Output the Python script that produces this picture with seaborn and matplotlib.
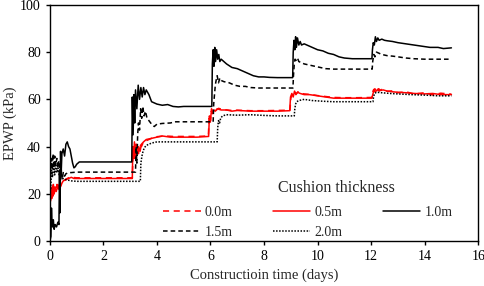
import matplotlib
matplotlib.use('Agg')
import matplotlib.pyplot as plt
import seaborn as sns
import pandas as pd

# cushion thickness labels
thickness = ["0.0m", "0.5m", "1.0m", "1.5m", "2.0m"]

# 0.0m (red dashed) - almost on top of 0.5m
t_00 = [0.03, 0.06, 0.09, 0.12, 0.15, 0.19, 0.23, 0.27, 0.31, 0.35, 0.4, 0.45, 0.5, 0.6, 0.7, 0.8, 1.0, 1.5, 2.0, 2.5, 3.08,
        3.11, 3.15, 3.19, 3.23, 3.27, 3.31, 3.36, 3.42, 3.5, 3.6, 3.8, 4.0, 4.3, 4.6, 5.0, 5.5, 5.92,
        5.95, 5.99, 6.03, 6.08, 6.13, 6.2, 6.3, 6.5, 6.8, 7.0, 7.5, 8.0, 8.5, 8.97,
        9.0, 9.05, 9.1, 9.15, 9.2, 9.27, 9.35, 9.5, 9.7, 10.0, 10.3, 10.6, 11.0, 11.5, 12.02,
        12.05, 12.1, 12.15, 12.2, 12.3, 12.4, 12.6, 12.8, 13.0, 13.3, 13.6, 14.0, 14.3, 14.6, 15.0]
epwp_00 = [18, 22, 19, 24, 20, 23, 21, 24, 22, 24, 23.5, 25, 25.5, 26.2, 26.8, 27, 26.8, 26.8, 26.8, 26.8, 26.8,
           39, 35, 41, 36, 40, 37, 41, 40, 42, 42.5, 43.5, 44.2, 44.5, 44.3, 44.3, 44.3, 44.5,
           52, 50, 55, 54, 56, 55.3, 56.2, 55.6, 55.3, 55.4, 55.2, 55.2, 55.3, 55.4,
           60.5, 62, 61.5, 63, 62.3, 63.2, 62.6, 62.3, 62.1, 61.6, 61.2, 60.8, 60.7, 60.7, 60.8,
           63, 64.2, 63.2, 64.8, 63.5, 64.2, 63.4, 63.6, 62.8, 63.2, 62.3, 62.8, 61.9, 62.6, 62.2]

# 0.5m (red solid)
t_05 = [0.03, 0.05, 0.07, 0.09, 0.11, 0.13, 0.16, 0.2, 0.24, 0.28, 0.32, 0.36, 0.4, 0.45, 0.5, 0.6, 0.7, 0.8, 0.9, 1.0, 1.5, 2.0, 2.5, 3.08,
        3.1, 3.13, 3.16, 3.2, 3.24, 3.28, 3.32, 3.37, 3.42, 3.5, 3.6, 3.8, 4.0, 4.2, 4.5, 5.0, 5.5, 5.93,
        5.96, 6.0, 6.04, 6.08, 6.13, 6.18, 6.25, 6.4, 6.6, 6.8, 7.0, 7.5, 8.0, 8.5, 8.96,
        8.99, 9.04, 9.09, 9.14, 9.19, 9.25, 9.35, 9.5, 9.7, 10.0, 10.3, 10.6, 11.0, 11.5, 12.03,
        12.06, 12.1, 12.14, 12.2, 12.28, 12.36, 12.45, 12.6, 12.8, 13.0, 13.3, 13.6, 14.0, 14.3, 14.6, 15.0]
epwp_05 = [17, 21, 18, 23, 19, 24, 20, 22, 21, 23, 22, 24, 23, 24.5, 25.5, 26, 26.5, 27, 26.5, 26.5, 26.5, 26.5, 26.5, 26.5,
           40, 36, 42, 35, 41, 37, 40, 38, 41, 42, 43, 43.5, 44, 44.5, 44, 44, 44, 44.3,
           53, 51, 56, 54, 55.5, 55, 56, 55.5, 55.5, 55, 55.3, 55, 55, 55, 55.2,
           61, 62.5, 61, 63.5, 62, 63, 62.5, 62, 62, 61.5, 61, 60.5, 60.5, 60.5, 60.5,
           62, 63.5, 64.5, 63.5, 64.5, 63.8, 64, 63.5, 63.2, 63, 62.8, 62.5, 62.3, 62.5, 62, 62]

# 1.0m (black solid)
t_10 = [0.0, 0.04, 0.06, 0.08, 0.1, 0.13, 0.16, 0.2, 0.25, 0.3, 0.34, 0.36, 0.38, 0.4, 0.42, 0.45, 0.5, 0.55, 0.6, 0.65, 0.7,
        0.75, 0.8, 0.85, 0.9, 0.95, 1.0, 1.1, 1.3, 1.6, 2.0, 2.5, 3.06,
        3.08, 3.11, 3.14, 3.17, 3.2, 3.25, 3.3, 3.35, 3.4, 3.45, 3.5, 3.55, 3.6, 3.7, 3.8, 3.9, 4.0, 4.2, 4.4, 4.6, 4.8, 5.0, 5.5, 6.05,
        6.07, 6.1, 6.13, 6.16, 6.19, 6.23, 6.27, 6.31, 6.35, 6.4, 6.5, 6.6, 6.8, 7.0, 7.2, 7.4, 7.6, 7.8, 8.0, 8.2, 8.5, 9.07,
        9.09, 9.12, 9.15, 9.18, 9.21, 9.25, 9.3, 9.35, 9.4, 9.5, 9.6, 9.8, 10.0, 10.2, 10.4, 10.6, 10.8, 11.0, 11.3, 11.6, 12.03,
        12.05, 12.08, 12.12, 12.16, 12.2, 12.25, 12.3, 12.4, 12.5, 12.6, 12.8, 13.0, 13.3, 13.6, 13.9, 14.2, 14.5, 14.7, 15.0]
epwp_10 = [0, 2, 14, 8, 6, 9, 5, 7, 6, 8, 7, 30, 12, 38, 28, 37, 39, 36, 41, 42, 40,
           39, 36, 33, 31, 31.5, 32.5, 33.5, 33.5, 33.5, 33.5, 33.5, 33.5,
           61, 45, 62, 50, 64, 56, 66, 60, 65, 61, 65, 62, 64, 62, 59, 58.5, 58, 57.5, 57.8, 57, 56.8, 57, 57, 57,
           75, 81, 74, 82, 76, 81, 77, 79, 76, 77, 76, 75, 73.5, 73, 72, 71, 70, 69.5, 69.5, 69.3, 69.2, 69.2,
           80, 85, 81, 86.5, 82, 86, 83, 84.5, 83, 83.5, 83, 82, 81, 80.5, 79.5, 79, 78, 77.5, 77.2, 77.2, 77.2,
           81, 84, 83, 86.5, 84.5, 86, 85, 85.5, 85, 84.8, 84.5, 84, 83.5, 83, 82.5, 82, 82, 81.5, 81.8]

# 1.5m (black dashed)
t_15 = [0.03, 0.06, 0.09, 0.12, 0.15, 0.18, 0.22, 0.26, 0.3, 0.34, 0.38, 0.42, 0.46, 0.5, 0.55, 0.6, 0.7, 0.8, 1.0, 1.5, 2.0, 2.5, 3.2,
        3.22, 3.25, 3.28, 3.31, 3.35, 3.39, 3.43, 3.47, 3.52, 3.57, 3.63, 3.7, 3.8, 3.9, 4.0, 4.2, 4.5, 4.7, 5.0, 5.5, 6.1,
        6.12, 6.15, 6.18, 6.21, 6.25, 6.3, 6.35, 6.4, 6.5, 6.7, 6.9, 7.1, 7.3, 7.5, 7.8, 8.0, 8.5, 9.08,
        9.1, 9.13, 9.16, 9.2, 9.25, 9.3, 9.4, 9.5, 9.7, 9.9, 10.1, 10.3, 10.6, 11.0, 11.5, 12.04,
        12.06, 12.1, 12.14, 12.2, 12.3, 12.4, 12.6, 12.8, 13.0, 13.3, 13.6, 14.0, 14.5, 15.0]
epwp_15 = [28, 35, 30, 37, 31, 36, 32, 35, 31, 34, 27, 31, 26, 29, 27.5, 28.5, 29, 29, 29.2, 29.2, 29.2, 29.2, 29.2,
           40, 33, 45, 50, 47, 56, 52, 57, 53, 55, 52, 51, 49.5, 48.5, 49.5, 49.8, 50, 50.5, 50.5, 50.5, 50.5,
           58, 62, 66, 68, 70, 67, 69, 68, 67.5, 67, 66, 65.5, 65.5, 65, 64.8, 64.8, 64.8, 64.8,
           70, 75, 77, 76.5, 77.5, 76, 75.5, 75, 74.5, 74, 73.5, 73, 72.8, 72.8, 72.8, 72.8,
           76, 79, 78, 80, 79.5, 79, 78.5, 78.3, 78, 77.5, 77.2, 77, 77, 77]

# 2.0m (black dotted)
t_20 = [0.03, 0.06, 0.1, 0.14, 0.18, 0.22, 0.26, 0.3, 0.35, 0.4, 0.5, 0.6, 0.8, 1.0, 1.5, 2.0, 2.5, 3.0, 3.38,
        3.4, 3.44, 3.48, 3.53, 3.6, 3.7, 3.8, 4.0, 4.5, 5.0, 5.5, 6.25,
        6.27, 6.3, 6.34, 6.38, 6.45, 6.6, 7.0, 7.5, 8.0, 8.5, 9.13,
        9.15, 9.18, 9.22, 9.3, 9.5, 9.8, 10.2, 10.6, 11.0, 11.5, 12.07,
        12.09, 12.13, 12.2, 12.4, 12.7, 13.0, 13.5, 14.0, 14.5, 15.0]
epwp_20 = [22, 30, 27, 33, 28, 32, 29, 31, 28, 27, 26.5, 26, 25.5, 25.3, 25.3, 25.3, 25.3, 25.3, 25.3,
           33, 36, 38, 39.5, 40.5, 41, 41.5, 42, 42, 42, 42, 42,
           48, 51, 50, 52, 53, 53.5, 53.3, 53.5, 53.2, 53, 53,
           56, 58, 59, 59.5, 60, 59.5, 59.2, 59, 59, 59, 59,
           61, 62.5, 63, 62.8, 62.5, 62.3, 62, 61.8, 61.5, 61.5]

frames = []
for name, t, p in [("0.0m", t_00, epwp_00), ("0.5m", t_05, epwp_05), ("1.0m", t_10, epwp_10),
                   ("1.5m", t_15, epwp_15), ("2.0m", t_20, epwp_20)]:
    frames.append(pd.DataFrame({'Time': t, 'EPWP': p, 'Cushion': name}))
df = pd.concat(frames, ignore_index=True)

sns.set_theme(style='ticks')
plt.rcParams['font.family'] = ['Liberation Serif', 'DejaVu Serif']
plt.rcParams['axes.linewidth'] = 1.0

fig = plt.figure(figsize=(4.84, 2.86), dpi=100)
ax = fig.add_axes([0.103, 0.157, 0.885, 0.826])

palette = {"0.0m": "red", "0.5m": "red", "1.0m": "black", "1.5m": "black", "2.0m": "black"}
dashes = {"0.0m": (4, 3), "0.5m": "", "1.0m": "", "1.5m": (3, 2), "2.0m": (1, 1)}

sns.lineplot(data=df, x='Time', y='EPWP', hue='Cushion', style='Cushion',
             palette=palette, dashes=dashes, estimator=None, sort=False,
             linewidth=1.1, ax=ax, hue_order=thickness, style_order=thickness)

ax.set_xlim(0, 16)
ax.set_ylim(0, 100)
ax.set_xticks(range(0, 17, 2))
ax.set_yticks(range(0, 101, 20))
ax.tick_params(labelsize=10, length=3, width=1, colors='black')
for s in ax.spines.values():
    s.set_visible(True)
    s.set_color('black')

ax.set_xlabel("Constructioin time (days)", fontsize=10.5)
ax.set_ylabel("EPWP (kPa)", fontsize=10.5, labelpad=2)

# legend laid out row-wise: 0.0 0.5 1.0 / 1.5 2.0
handles, labels = ax.get_legend_handles_labels()
lookup = dict(zip(labels, handles))
order = ["0.0m", "1.5m", "0.5m", "2.0m", "1.0m"]
ax.legend([lookup[k] for k in order], order, ncol=3,
          frameon=False, fontsize=10, handlelength=2.7,
          columnspacing=2.9, handletextpad=0.3, labelspacing=0.5,
          loc='lower left', bbox_to_anchor=(0.235, -0.045))
ax.text(0.67, 0.225, "Cushion thickness", transform=ax.transAxes,
        ha='center', va='center', fontsize=11.5)

plt.savefig("out.png", dpi=100)
